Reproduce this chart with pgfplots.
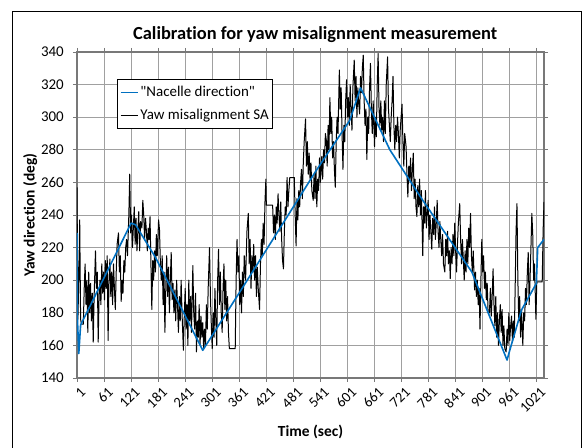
\documentclass[border=0pt]{standalone}
\usepackage{fontspec}
\defaultfontfeatures[\rmfamily]{Ligatures=NoCommon}
\setmainfont{Carlito}[Ligatures=NoCommon]
\newfontfamily\carlito{Carlito}[Ligatures=NoCommon]
\usepackage{pgfplots}
\usepackage{pgfplotstable}
\pgfplotsset{compat=1.18}
\definecolor{nacelle}{RGB}{0,112,192}
\definecolor{gridc}{RGB}{160,160,160}
\definecolor{axc}{RGB}{120,120,120}

\pgfplotstableread{
x y
1 229
2 176
5 155
9 172.5
121 235
131 234
175 214
280 157
365 194
531 267
606 298
630 318
695 280
768 249
877 205
955 151
960 156
987 181.7
1020 198
1023 220
1037 225
}\nacelle

\pgfplotstableread{
x y
1 257
3 176
5 200
7 237
9 176
11 173
15 173
17 195
19 210
21 185
23 200
25 168
27 205
29 180
31 198
33 175
35 192
37 162
39 190
42 218
44 195
46 205
48 162
50 190
52 200
54 185
56 210
58 192
60 205
62 188
64 212
66 195
68 215
70 163
72 200
74 213
76 190
78 205
80 185
82 210
84 195
86 182
88 205
90 222
93 229
95 205
97 215
99 187
101 200
103 192
105 212
107 205
109 220
111 225
113 215
116 240
118 265
120 229
122 240
124 220
126 232
128 245
130 222
132 238
134 218
136 230
138 242
140 218
142 236
145 232
147 249
149 240
151 225
153 238
155 230
157 218
159 232
161 225
163 239
165 210
167 182
169 212
171 200
173 218
175 205
177 228
179 215
182 237
184 231
186 210
188 200
190 215
192 185
194 205
196 168
198 195
200 215
202 190
204 208
206 180
208 200
210 217
212 188
214 198
216 180
218 194
220 175
222 200
224 185
226 168
228 190
230 175
232 200
234 180
237 157
239 178
241 195
243 170
245 185
247 160
249 200
251 175
253 190
255 168
258 209
260 180
262 170
264 192
266 156
268 175
270 165
272 185
274 160
276 178
278 165
280 174
282 158
284 170
286 160
288 185
290 170
292 195
295 220
297 190
299 172
301 158
303 180
305 165
307 195
309 175
311 160
313 200
315 219
317 185
319 205
321 180
323 168
325 195
327 210
329 182
331 200
333 175
335 190
337 168
339 158
352 158
354 200
356 225
358 205
360 215
362 185
364 200
366 180
368 205
370 190
372 215
375 200
378 230
381 241
383 210
385 225
387 195
389 215
391 205
393 222
395 200
397 215
399 190
401 208
403 195
406 182
408 210
410 225
412 215
414 235
416 222
418 248
420 262
421 246
435 246
437 229
439 240
441 225
443 245
445 235
447 253
449 240
451 230
453 248
455 225
457 212
459 207
461 230
463 245
465 240
467 263
469 245
471 255
473 263
483 263
485 240
487 221
489 250
491 237
493 255
495 245
497 260
499 268
501 250
503 272
505 285
508 299
510 270
512 285
514 265
516 278
518 262
520 272
522 255
525 249
527 265
529 250
531 270
533 245
535 262
537 255
539 275
541 260
544 276
546 262
548 280
550 272
552 290
554 286
556 270
558 295
560 280
562 312
564 290
566 300
568 275
570 285
572 268
574 257
576 285
578 300
580 290
583 329
585 305
587 318
589 290
591 268
593 295
595 285
597 310
599 323
601 300
603 312
605 295
607 320
609 305
611 292
613 318
616 335
618 310
620 325
622 300
624 318
626 308
628 302
630 325
632 315
634 330
636 338
638 310
640 295
642 305
644 274
646 300
648 290
650 318
652 333
654 305
656 290
658 310
661 282
663 300
665 288
667 320
669 339
671 305
673 295
675 310
677 292
679 300
681 285
683 310
685 290
687 320
690 337
692 305
694 295
696 285
698 300
700 310
702 325
704 295
706 280
708 295
710 285
712 300
714 290
716 275
718 292
720 300
722 308
724 285
726 270
728 290
731 282
733 265
735 251
737 270
739 262
741 275
743 255
745 268
747 278
749 250
751 262
753 245
755 239
757 258
759 245
761 262
763 240
765 255
768 215
770 245
772 235
774 255
776 232
778 242
780 249
782 225
784 240
786 230
788 219
790 238
792 228
794 245
796 225
798 235
800 249
802 230
804 220
806 236
808 225
810 215
812 228
814 210
817 205
819 225
821 215
823 230
825 210
827 218
829 201
831 220
833 210
835 228
837 215
839 235
841 218
843 205
845 222
847 235
850 247
852 225
854 210
856 225
858 213
860 200
862 218
864 205
866 225
868 210
870 232
872 220
874 241
876 215
878 205
880 218
883 194
885 205
887 190
889 200
891 185
893 195
895 170
897 200
899 225
901 205
903 215
905 195
907 205
909 188
911 198
913 180
916 180
918 195
920 178
922 190
924 207
926 185
928 172
930 190
932 165
934 180
936 160
938 175
940 185
942 168
944 182
946 160
948 172
950 158
953 156
955 170
957 160
959 180
961 163
963 172
965 178
967 162
969 175
971 165
973 195
975 230
977 247
979 200
981 175
983 190
985 165
987 182
990 160
992 180
994 175
996 195
998 185
1000 205
1002 217
1004 185
1006 200
1008 220
1010 241
1012 228
1014 200
1016 210
1019 176
1021 199
1033 199
1035 230
1037 248
}\yawsa

\begin{document}
\begin{tikzpicture}[x=1bp,y=1bp,font=\carlito]
\useasboundingbox (-77,-70) rectangle (505,378);
\begin{axis}[
  at={(0,0)}, anchor=south west,
  scale only axis,
  width=467bp, height=326bp,
  xmin=1, xmax=1037,
  ymin=140, ymax=340,
  xtick={1,61,...,1021},
  ytick={140,160,...,340},
  /pgf/number format/assume math mode=true,
  /pgf/number format/1000 sep={},
  grid=major,
  major grid style={gridc, line width=0.9bp},
  axis line style={axc, line width=1.1bp},
  tick style={axc, line width=0.9bp},
  tick align=outside,
  major tick length=4bp,
  xticklabel style={font=\carlito\fontsize{14.5}{16}\selectfont, rotate=45, anchor=north east, inner sep=1bp, yshift=-4bp},
  yticklabel style={font=\carlito\fontsize{15}{16}\selectfont, inner sep=1bp, xshift=-8bp},
  title={\bfseries Calibration for yaw misalignment measurement},
  title style={font=\carlito\fontsize{18.5}{20}\selectfont, at={(axis description cs:0.51,1.061)}, anchor=center, yshift=-8bp},
  xlabel={\bfseries Time (sec)},
  xlabel style={font=\carlito\fontsize{15.5}{18}\selectfont, at={(axis description cs:0.5,-0.166)}, anchor=center},
  ylabel={\bfseries Yaw direction (deg)},
  ylabel style={font=\carlito\fontsize{15.5}{18}\selectfont, at={(axis description cs:-0.1,0.5)}, anchor=center, rotate=0},
  legend style={at={(axis description cs:0.0867,0.917)}, anchor=north west,
     font=\carlito\fontsize{15}{18}\selectfont, draw=black, line width=0.8bp, fill=white,
     inner xsep=2bp, inner ysep=5bp, row sep=7bp, cells={anchor=west}},
  legend image code/.code={\draw[#1] (0bp,0bp) -- (17bp,0bp);},
  reverse legend,
]
\addplot[black, line width=1bp, line join=round] table[x=x,y=y] {\yawsa};
\addlegendentry{Yaw misalignment SA}
\addplot[nacelle, line width=1.6bp, line join=round] table[x=x,y=y] {\nacelle};
\addlegendentry{"Nacelle direction"}
\end{axis}
\draw[black, line width=0.8bp] (-65,-90) rectangle (504,367);
\end{tikzpicture}
\end{document}
